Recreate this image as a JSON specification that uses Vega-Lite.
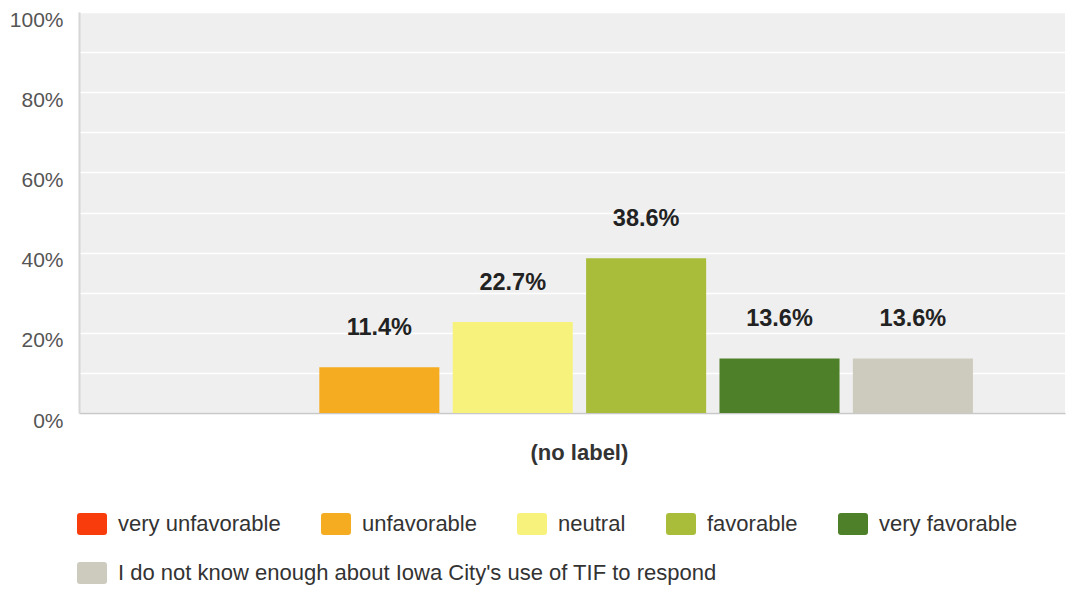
{
  "$schema": "https://vega.github.io/schema/vega-lite/v6.json",
  "width": 986,
  "height": 401,
  "autosize": {"type": "none"},
  "padding": {"left": 79, "top": 12, "right": 4, "bottom": 176},
  "background": "white",
  "config": {
    "font": "Liberation Sans",
    "view": {"fill": "#efefef", "stroke": null},
    "legend": {
      "title": null,
      "orient": "none",
      "direction": "horizontal",
      "padding": 0,
      "symbolType": "M-0.8,-0.733H0.8Q1,-0.733 1,-0.533V0.533Q1,0.733 0.8,0.733H-0.8Q-1,0.733 -1,0.533V-0.533Q-1,-0.733 -0.8,-0.733Z",
      "symbolSize": 900,
      "symbolStrokeWidth": 0,
      "symbolOpacity": 1,
      "labelFontSize": 22,
      "labelColor": "#333333",
      "labelOffset": 11,
      "labelLimit": 0,
      "columnPadding": 40
    }
  },
  "data": {
    "values": [
      {"q": "(no label)", "response": "very unfavorable", "value": 0},
      {"q": "(no label)", "response": "unfavorable", "value": 0.114},
      {"q": "(no label)", "response": "neutral", "value": 0.227},
      {"q": "(no label)", "response": "favorable", "value": 0.386},
      {"q": "(no label)", "response": "very favorable", "value": 0.136},
      {"q": "(no label)", "response": "I do not know enough about Iowa City's use of TIF to respond", "value": 0.136}
    ]
  },
  "encoding": {
    "x": {
      "field": "q",
      "type": "nominal",
      "scale": {"paddingInner": 0, "paddingOuter": 0.116, "align": 0.54},
      "axis": {
        "title": null,
        "labelAngle": 0,
        "labelFontWeight": "bold",
        "labelFontSize": 22,
        "labelColor": "#333333",
        "labelPadding": 29,
        "ticks": false,
        "domainColor": "#c8c8c8",
        "domainWidth": 1.5
      }
    },
    "xOffset": {
      "field": "response",
      "type": "nominal",
      "scale": {
        "domain": ["very unfavorable", "unfavorable", "neutral", "favorable", "very favorable", "I do not know enough about Iowa City's use of TIF to respond"],
        "paddingInner": 0.1,
        "paddingOuter": 0.05
      }
    },
    "y": {
      "field": "value",
      "type": "quantitative",
      "scale": {"domain": [0, 1], "nice": false},
      "axis": {
        "title": null,
        "values": [0, 0.1, 0.2, 0.3, 0.4, 0.5, 0.6, 0.7, 0.8, 0.9, 1],
        "format": ".0%",
        "labelExpr": "round(datum.value*10) % 2 == 0 ? datum.label : ''",
        "labelFontSize": 21,
        "labelColor": "#555555",
        "labelPadding": 16,
        "labelOffset": 8,
        "labelBaseline": "middle",
        "ticks": false,
        "domain": true,
        "domainColor": "#d6d6d6",
        "domainWidth": 2,
        "grid": true,
        "gridColor": "#ffffff",
        "gridWidth": 1.5
      }
    }
  },
  "layer": [
    {
      "transform": [{"filter": "datum.response != \"I do not know enough about Iowa City's use of TIF to respond\""}],
      "mark": {"type": "bar"},
      "encoding": {
        "color": {
          "field": "response",
          "type": "nominal",
          "scale": {
            "domain": ["very unfavorable", "unfavorable", "neutral", "favorable", "very favorable"],
            "range": ["#f93c0c", "#f5ac20", "#f6f27c", "#a9bd3a", "#4e8029"]
          },
          "legend": {
            "legendX": -2,
            "legendY": 497,
            "columns": 5
          }
        }
      }
    },
    {
      "transform": [{"filter": "datum.response == \"I do not know enough about Iowa City's use of TIF to respond\""}],
      "mark": {"type": "bar"},
      "encoding": {
        "fill": {
          "field": "response",
          "type": "nominal",
          "scale": {
            "domain": ["I do not know enough about Iowa City's use of TIF to respond"],
            "range": ["#cdcbbd"]
          },
          "legend": {
            "legendX": -2,
            "legendY": 546,
            "columns": 1
          }
        }
      }
    },
    {
      "transform": [{"filter": "datum.value > 0"}],
      "mark": {"type": "text", "fontWeight": "bold", "fontSize": 23.5, "color": "#222222", "baseline": "middle", "dy": -39},
      "encoding": {
        "text": {"field": "value", "type": "quantitative", "format": ".1%"}
      }
    }
  ]
}
